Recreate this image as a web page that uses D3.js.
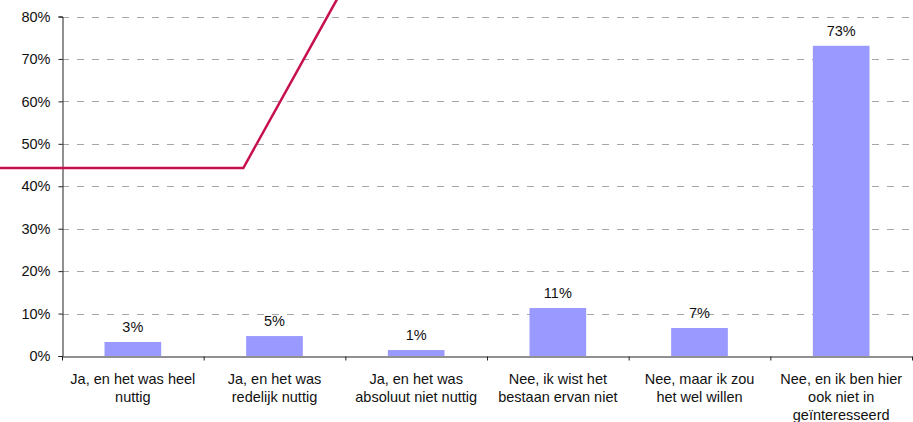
<!DOCTYPE html>
<html><head><meta charset="utf-8">
<script src="https://cdn.jsdelivr.net/npm/d3@7"></script>
<style>
html,body{margin:0;padding:0;background:#fff;}
svg{display:block;font-family:"Liberation Sans",Arial,sans-serif;}
</style></head>
<body><svg id="c" width="913" height="422"></svg>
<script>
const categories = [
  "Ja, en het was heel\nnuttig",
  "Ja, en het was\nredelijk nuttig",
  "Ja, en het was\nabsoluut niet nuttig",
  "Nee, ik wist het\nbestaan ervan niet",
  "Nee, maar ik zou\nhet wel willen",
  "Nee, en ik ben hier\nook niet in\ngeïnteresseerd"
];
const values = [3.3, 4.7, 1.4, 11.3, 6.6, 73.1];
const yTicks = [0, 10, 20, 30, 40, 50, 60, 70, 80];
// stray line (category-position units, percent)
const lineX = [-0.44, 1.28, 1.94, 2.1];
const lineY = [44.3, 44.3, 84, 93.6];

(function () {
const svg = d3.select("#c");
const mLeft = 62, mRight = 912, mTop = 16.5, mBottom = 356;
const FS = 14.5;

const y = d3.scaleLinear().domain([0, 80]).range([mBottom, mTop]);
const x = d3.scaleBand().domain(categories).range([mLeft, mRight]).paddingInner(0.6).paddingOuter(0.3);
const xl = d3.scaleLinear().domain([0, categories.length]).range([mLeft, mRight]);

// gridlines
svg.append("g").selectAll("line").data(yTicks.filter(d => d > 0)).join("line")
  .attr("x1", mLeft).attr("x2", mRight)
  .attr("y1", d => Math.round(y(d)) + 0.5).attr("y2", d => Math.round(y(d)) + 0.5)
  .attr("stroke", "#a6a6a6").attr("stroke-width", 1).attr("stroke-dasharray", "7,8");

// bars
svg.append("g").selectAll("rect").data(values).join("rect")
  .attr("x", (d, i) => x(categories[i]))
  .attr("width", x.bandwidth())
  .attr("y", d => y(d))
  .attr("height", d => y(0) - y(d))
  .attr("fill", "#9999ff");

// value labels
svg.append("g").selectAll("text").data(values).join("text")
  .attr("x", (d, i) => x(categories[i]) + x.bandwidth() / 2)
  .attr("y", d => y(d) - 10)
  .attr("text-anchor", "middle").attr("font-size", FS).attr("fill", "#111")
  .text(d => Math.round(d) + "%");

// y axis
const yAxis = d3.axisLeft(y).tickValues(yTicks).tickFormat(d => d + "%").tickSize(4).tickPadding(8);
const gy = svg.append("g").attr("transform", `translate(${mLeft + 0.5},0)`).call(yAxis);
gy.attr("font-size", FS).attr("font-family", "Liberation Sans, Arial, sans-serif");
gy.select(".domain").attr("stroke", "#222");
gy.selectAll(".tick line").attr("stroke", "#222");
gy.selectAll(".tick text").attr("fill", "#111");

// x axis
const xAxis = d3.axisBottom(xl).tickValues(d3.range(0, categories.length + 1)).tickFormat("").tickSize(4).tickSizeOuter(0);
const gx = svg.append("g").attr("transform", `translate(0,${mBottom + 0.5})`).call(xAxis);
gx.select(".domain").attr("stroke", "#222");
gx.selectAll(".tick line").attr("stroke", "#222");

// category labels
const cl = svg.append("g").selectAll("text").data(categories).join("text")
  .attr("text-anchor", "middle").attr("font-size", FS).attr("fill", "#111")
  .attr("transform", d => `translate(${x(d) + x.bandwidth() / 2},${mBottom + 28})`);
cl.selectAll("tspan").data(d => d.split("\n")).join("tspan")
  .attr("x", 0).attr("dy", (d, i) => i === 0 ? 0 : 18).text(d => d);

// stray line
const pts = lineX.map((v, i) => [xl(v), y(lineY[i])]);
svg.append("path").datum(pts)
  .attr("d", d3.line())
  .attr("fill", "none").attr("stroke", "#c8104e").attr("stroke-width", 2.5);
})();
</script></body></html>
